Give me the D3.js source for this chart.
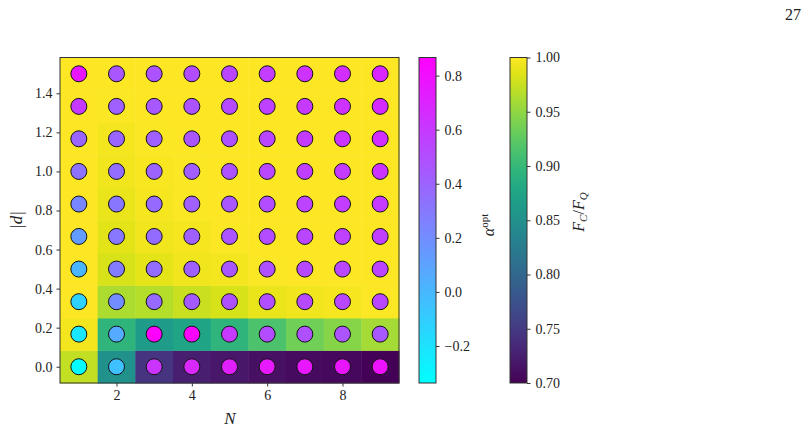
<!DOCTYPE html>
<html>
<head>
<meta charset="utf-8">
<script src="https://cdn.jsdelivr.net/npm/d3@7"></script>
<style>
  body { margin: 0; background: #fff; }
  text { font-family: "Liberation Serif", "DejaVu Serif", serif; fill: #222; }
</style>
</head>
<body>
<div id="chart"></div>
<script>
// N on x, |d| on y
const nVals = [1, 2, 3, 4, 5, 6, 7, 8, 9];
const dVals = [0, 0.167, 0.333, 0.5, 0.667, 0.833, 1.0, 1.167, 1.333, 1.5];

// F_C / F_Q, one row per |d| (bottom to top)
const fid0 = [0.972, 0.850, 0.745, 0.725, 0.718, 0.712, 0.709, 0.706, 0.702];
const fid1 = [0.995, 0.895, 0.865, 0.875, 0.895, 0.915, 0.935, 0.945, 0.960];
const fid2 = [1.000, 0.963, 0.967, 0.975, 0.982, 0.990, 0.993, 0.996, 0.998];
const fid3 = [1.000, 0.982, 0.988, 0.993, 0.995, 0.998, 0.999, 1.000, 1.000];
const fid4 = [1.000, 0.987, 0.993, 0.996, 0.998, 0.999, 1.000, 1.000, 1.000];
const fid5 = [1.000, 0.990, 0.996, 0.998, 0.999, 1.000, 1.000, 1.000, 1.000];
const fid6 = [1.000, 0.993, 0.997, 0.998, 0.999, 1.000, 1.000, 1.000, 1.000];
const fid7 = [1.000, 0.995, 0.998, 0.999, 1.000, 1.000, 1.000, 1.000, 1.000];
const fid8 = [1.000, 0.998, 0.999, 1.000, 1.000, 1.000, 1.000, 1.000, 1.000];
const fid9 = [1.000, 1.000, 1.000, 1.000, 1.000, 1.000, 1.000, 1.000, 1.000];

// alpha^opt, same layout
const alp0 = [-0.335, -0.04, 0.62, 0.68, 0.72, 0.75, 0.76, 0.77, 0.78];
const alp1 = [-0.22, 0.06, 0.867, 0.855, 0.60, 0.51, 0.49, 0.47, 0.45];
const alp2 = [-0.12, 0.20, 0.37, 0.44, 0.49, 0.50, 0.52, 0.53, 0.53];
const alp3 = [0.01, 0.28, 0.35, 0.42, 0.46, 0.49, 0.52, 0.53, 0.55];
const alp4 = [0.13, 0.30, 0.36, 0.42, 0.47, 0.51, 0.54, 0.56, 0.57];
const alp5 = [0.23, 0.31, 0.37, 0.42, 0.46, 0.51, 0.55, 0.58, 0.60];
const alp6 = [0.33, 0.35, 0.40, 0.43, 0.48, 0.53, 0.57, 0.59, 0.62];
const alp7 = [0.39, 0.39, 0.42, 0.46, 0.49, 0.54, 0.59, 0.62, 0.65];
const alp8 = [0.60, 0.42, 0.45, 0.48, 0.52, 0.56, 0.60, 0.63, 0.67];
const alp9 = [0.77, 0.46, 0.48, 0.51, 0.54, 0.58, 0.63, 0.66, 0.69];

const xTicks = [2, 4, 6, 8];
const yTicks = [0.0, 0.2, 0.4, 0.6, 0.8, 1.0, 1.2, 1.4];
const alphaTicks = [-0.2, 0.0, 0.2, 0.4, 0.6, 0.8];
const fidTicks = [0.70, 0.75, 0.80, 0.85, 0.90, 0.95, 1.00];
const alphaRange = [-0.337, 0.867];
const fidRange = [0.70, 1.00];

const fidRows = [fid0, fid1, fid2, fid3, fid4, fid5, fid6, fid7, fid8, fid9];
const alpRows = [alp0, alp1, alp2, alp3, alp4, alp5, alp6, alp7, alp8, alp9];
const cells = [];
dVals.forEach((d, i) => nVals.forEach((n, j) => {
  cells.push({n, d, f: fidRows[i][j], a: alpRows[i][j]});
}));

const width = 809, height = 432;
const svg = d3.select("#chart").append("svg")
  .attr("width", width).attr("height", height);

const x = d3.scaleLinear().domain([0.5, 9.5]).range([60, 399]);
const y = d3.scaleLinear().domain([-1/12, 1.5 + 1/12]).range([383, 57.5]);
const fidColor = d3.scaleSequential(d3.interpolateViridis).domain(fidRange);
const coolColor = d3.scaleSequential(d3.interpolateRgb("#00ffff", "#ff00ff")).domain(alphaRange);

// heat cells
svg.append("g").selectAll("rect")
  .data(cells)
  .join("rect")
  .attr("x", d => x(d.n - 0.5))
  .attr("y", d => y(d.d + 1/12))
  .attr("width", d => x(d.n + 0.5) - x(d.n - 0.5) + 0.5)
  .attr("height", d => y(d.d - 1/12) - y(d.d + 1/12) + 0.5)
  .attr("fill", d => fidColor(d.f));

// alpha dots
svg.append("g").selectAll("circle")
  .data(cells)
  .join("circle")
  .attr("cx", d => x(d.n))
  .attr("cy", d => y(d.d))
  .attr("r", 8)
  .attr("fill", d => coolColor(d.a))
  .attr("stroke", "#111")
  .attr("stroke-width", 1);

// frame
svg.append("rect")
  .attr("x", 60).attr("y", 57.5)
  .attr("width", 339).attr("height", 325.5)
  .attr("fill", "none").attr("stroke", "#333").attr("stroke-width", 1);

const xAxis = svg.append("g")
  .attr("transform", "translate(0,383)")
  .call(d3.axisBottom(x).tickValues(xTicks).tickSize(3.5).tickPadding(4).tickFormat(d3.format("d")));
const yAxis = svg.append("g")
  .attr("transform", "translate(60,0)")
  .call(d3.axisLeft(y).tickValues(yTicks).tickSize(3.5).tickPadding(4).tickFormat(d3.format(".1f")));
[xAxis, yAxis].forEach(g => {
  g.select(".domain").remove();
  g.selectAll("text").style("font-size", "14px").attr("fill", "#222")
    .style("font-family", "'Liberation Serif', serif");
  g.selectAll("line").attr("stroke", "#333");
});

svg.append("text").attr("x", 230).attr("y", 424)
  .attr("text-anchor", "middle").style("font-size", "17px").style("font-style", "italic")
  .text("N");
svg.append("text").attr("transform", "translate(22,220) rotate(-90)")
  .attr("text-anchor", "middle").style("font-size", "17px")
  .text("|d|").style("font-style", "italic");

// colorbars
function colorbar(x0, range, ticks, color, id, fmt, label, labelX) {
  const cy = d3.scaleLinear().domain(range).range([383, 57.5]);
  const defs = svg.append("defs");
  const grad = defs.append("linearGradient").attr("id", id)
    .attr("x1", 0).attr("y1", 1).attr("x2", 0).attr("y2", 0);
  d3.range(0, 1.0001, 0.05).forEach(t => {
    grad.append("stop").attr("offset", t)
      .attr("stop-color", color(range[0] + t * (range[1] - range[0])));
  });
  svg.append("rect").attr("x", x0).attr("y", 57.5).attr("width", 17).attr("height", 325.5)
    .attr("fill", `url(#${id})`).attr("stroke", "#333").attr("stroke-width", 1);
  const g = svg.append("g").attr("transform", `translate(${x0 + 17},0)`)
    .call(d3.axisRight(cy).tickValues(ticks).tickSize(3.5).tickPadding(5).tickFormat(fmt));
  g.select(".domain").remove();
  g.selectAll("line").attr("stroke", "#333");
  g.selectAll("text").style("font-size", "14px").attr("fill", "#222")
    .style("font-family", "'Liberation Serif', serif");
  label(labelX);
}

colorbar(419, alphaRange, alphaTicks, coolColor, "gAlpha",
  v => (v < 0 ? "\u2212" + d3.format(".1f")(-v) : d3.format(".1f")(v)),
  lx => {
    const t = svg.append("text").attr("transform", `translate(${lx},225) rotate(-90)`)
      .attr("text-anchor", "middle").style("font-size", "16px");
    t.append("tspan").style("font-style", "italic").text("\u03B1");
    t.append("tspan").attr("dy", -6).style("font-size", "11px").text("opt");
  }, 494);

colorbar(510, fidRange, fidTicks, fidColor, "gFid", d3.format(".2f"),
  lx => {
    const t = svg.append("text").attr("transform", `translate(${lx},212) rotate(-90)`)
      .attr("text-anchor", "middle").style("font-size", "16px").style("font-style", "italic");
    t.append("tspan").text("F");
    t.append("tspan").attr("dy", 3).style("font-size", "11px").text("C");
    t.append("tspan").attr("dy", -3).style("font-style", "normal").text("/");
    t.append("tspan").text("F");
    t.append("tspan").attr("dy", 3).style("font-size", "11px").text("Q");
  }, 584);

// page number
svg.append("text").attr("x", 793).attr("y", 20).attr("text-anchor", "middle")
  .style("font-size", "16px").text("27");
</script>
</body>
</html>
